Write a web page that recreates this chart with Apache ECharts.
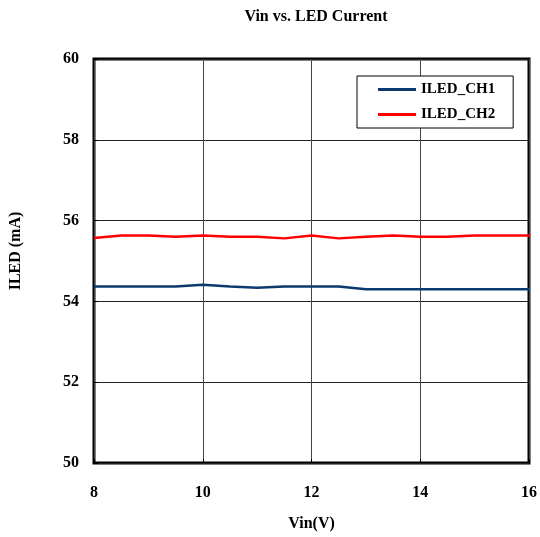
<!DOCTYPE html>
<html>
<head>
<meta charset="utf-8">
<script src="https://cdn.jsdelivr.net/npm/echarts@6/dist/echarts.min.js"></script>
<style>
html,body{margin:0;padding:0;background:#fff;}
#chart{width:540px;height:537px;}
</style>
</head>
<body>
<div id="chart"></div>
<script>
var vin = [8, 8.5, 9, 9.5, 10, 10.5, 11, 11.5, 12, 12.5, 13, 13.5, 14, 14.5, 15, 15.5, 16];
var iledCh1 = [54.37, 54.37, 54.37, 54.37, 54.41, 54.37, 54.34, 54.37, 54.37, 54.37, 54.30, 54.30, 54.30, 54.30, 54.30, 54.30, 54.30];
var iledCh2 = [55.57, 55.63, 55.63, 55.60, 55.63, 55.60, 55.60, 55.56, 55.63, 55.56, 55.60, 55.63, 55.60, 55.60, 55.63, 55.63, 55.63];
var seriesNames = ['ILED_CH1', 'ILED_CH2'];
var titleText = 'Vin vs. LED Current';
var xName = 'Vin(V)';
var yName = 'ILED (mA)';

function pairs(xs, ys) { return xs.map(function (x, i) { return [x, ys[i]]; }); }

var font = "'Liberation Serif', 'Times New Roman', serif";
var chart = echarts.init(document.getElementById('chart'), null, {renderer: 'canvas'});
chart.setOption({
  animation: false,
  backgroundColor: '#fff',
  title: {
    text: titleText,
    left: 311, top: 4, textAlign: 'center',
    textStyle: {fontFamily: font, fontWeight: 'bold', fontSize: 16, color: '#000'}
  },
  legend: {
    orient: 'vertical',
    left: 357, top: 76,
    width: 156,
    padding: [6, 18, 6, 21],
    itemGap: 10,
    itemWidth: 38, itemHeight: 3,
    icon: 'rect',
    borderColor: '#000', borderWidth: 1,
    backgroundColor: '#fff',
    textStyle: {fontFamily: font, fontWeight: 'bold', fontSize: 15, color: '#000'},
    data: seriesNames
  },
  grid: {
    left: 93, right: 8, top: 59, bottom: 73,
    show: true, borderColor: '#000', borderWidth: 3, backgroundColor: 'transparent'
  },
  xAxis: {
    type: 'value', min: 8, max: 16, interval: 2,
    name: xName, nameLocation: 'middle', nameGap: 53,
    nameTextStyle: {fontFamily: font, fontWeight: 'bold', fontSize: 16, color: '#000'},
    axisLine: {show: false},
    axisTick: {show: true, inside: true, length: 4, lineStyle: {color: '#000'}},
    axisLabel: {margin: 22, fontFamily: font, fontWeight: 'bold', fontSize: 16, color: '#000'},
    splitLine: {show: true, lineStyle: {color: '#444', width: 1}}
  },
  yAxis: {
    type: 'value', min: 50, max: 60, interval: 2,
    name: yName, nameLocation: 'middle', nameGap: 70, nameRotate: 90,
    nameTextStyle: {fontFamily: font, fontWeight: 'bold', fontSize: 16, color: '#000', padding: [0, 0, 0, 20]},
    axisLine: {show: false},
    axisTick: {show: true, inside: true, length: 4, lineStyle: {color: '#000'}},
    axisLabel: {margin: 15, fontFamily: font, fontWeight: 'bold', fontSize: 16, color: '#000'},
    splitLine: {show: true, lineStyle: {color: '#222', width: 1}}
  },
  series: [
    {
      name: seriesNames[0], type: 'line', data: pairs(vin, iledCh1),
      symbol: 'none', color: '#0b3a6e', lineStyle: {width: 2.5, color: '#0b3a6e'}
    },
    {
      name: seriesNames[1], type: 'line', data: pairs(vin, iledCh2),
      symbol: 'none', color: '#ff0000', lineStyle: {width: 2.5, color: '#ff0000'}
    }
  ]
});
</script>
</body>
</html>
